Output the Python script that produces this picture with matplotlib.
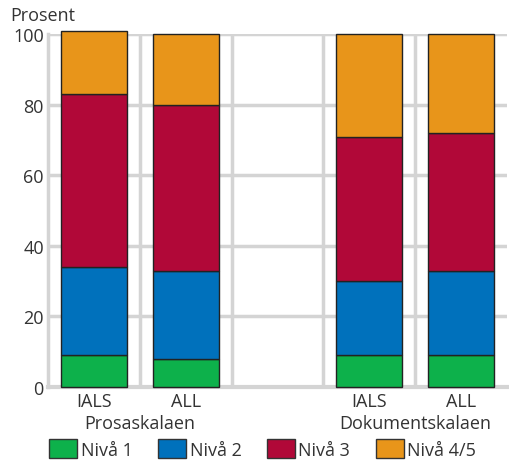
import numpy as np
import matplotlib.pyplot as plt
from matplotlib.patches import Patch

plt.rcParams['font.family'] = ['Open Sans', 'DejaVu Sans']

bars = ["IALS", "ALL", "IALS", "ALL"]
groups = ["Prosaskalaen", "Dokumentskalaen"]
levels = ["Nivå 1", "Nivå 2", "Nivå 3", "Nivå 4/5"]
colors = ["#0db14b", "#0071bc", "#b10838", "#e8951a"]

niva1 = [9, 8, 9, 9]
niva2 = [25, 25, 21, 24]
niva3 = [49, 47, 41, 39]
niva45 = [18, 20, 29, 28]
series = [niva1, niva2, niva3, niva45]

pos = np.array([0, 1, 3, 4])

fig = plt.figure(figsize=(5.1, 4.64), dpi=100)
ax = fig.add_axes([0.094, 0.164, 0.9, 0.76])

bottom = np.zeros(4)
for vals, c in zip(series, colors):
    ax.bar(pos, vals, 0.72, bottom=bottom, color=c, edgecolor="#222222",
           linewidth=1, zorder=3, clip_on=False)
    bottom += np.array(vals)

ax.set_xlim(-0.5, 4.5)
ax.set_ylim(0, 100)
ax.set_yticks(range(0, 101, 20))
ax.set_xticks(pos)
ax.set_xticklabels(bars)
ax.set_xticks([0.5, 1.5, 2.5, 3.5], minor=True)
ax.grid(axis="y", color="#d4d4d4", linewidth=2.5, zorder=0)
ax.grid(axis="x", which="minor", color="#d4d4d4", linewidth=2.5, zorder=0)
ax.tick_params(axis="both", which="both", length=0, labelsize=13, colors="#333333")
ax.tick_params(axis="x", pad=4)
ax.tick_params(axis="y", pad=3)
for s in ["top", "right"]:
    ax.spines[s].set_visible(False)
ax.spines["left"].set_color("#d4d4d4")
ax.spines["left"].set_linewidth(2.5)
ax.spines["bottom"].set_color("#d4d4d4")
ax.spines["bottom"].set_linewidth(3)

ax.text(0.5, -0.102, groups[0], transform=ax.get_xaxis_transform(),
        ha="center", va="center", fontsize=13, color="#333333")
ax.text(3.5, -0.102, groups[1], transform=ax.get_xaxis_transform(),
        ha="center", va="center", fontsize=13, color="#333333")
fig.text(0.02, 0.965, "Prosent", fontsize=13, color="#333333", va="center")

handles = [Patch(facecolor=c, edgecolor="#333333", label=l) for c, l in zip(colors, levels)]
fig.legend(handles=handles, loc="center", bbox_to_anchor=(0.515, 0.03), ncol=4,
           frameon=False, fontsize=13, handlelength=1.55, handleheight=1.2,
           handletextpad=0.2, columnspacing=1.4, labelcolor="#333333")

fig.savefig("out.png", dpi=100)
